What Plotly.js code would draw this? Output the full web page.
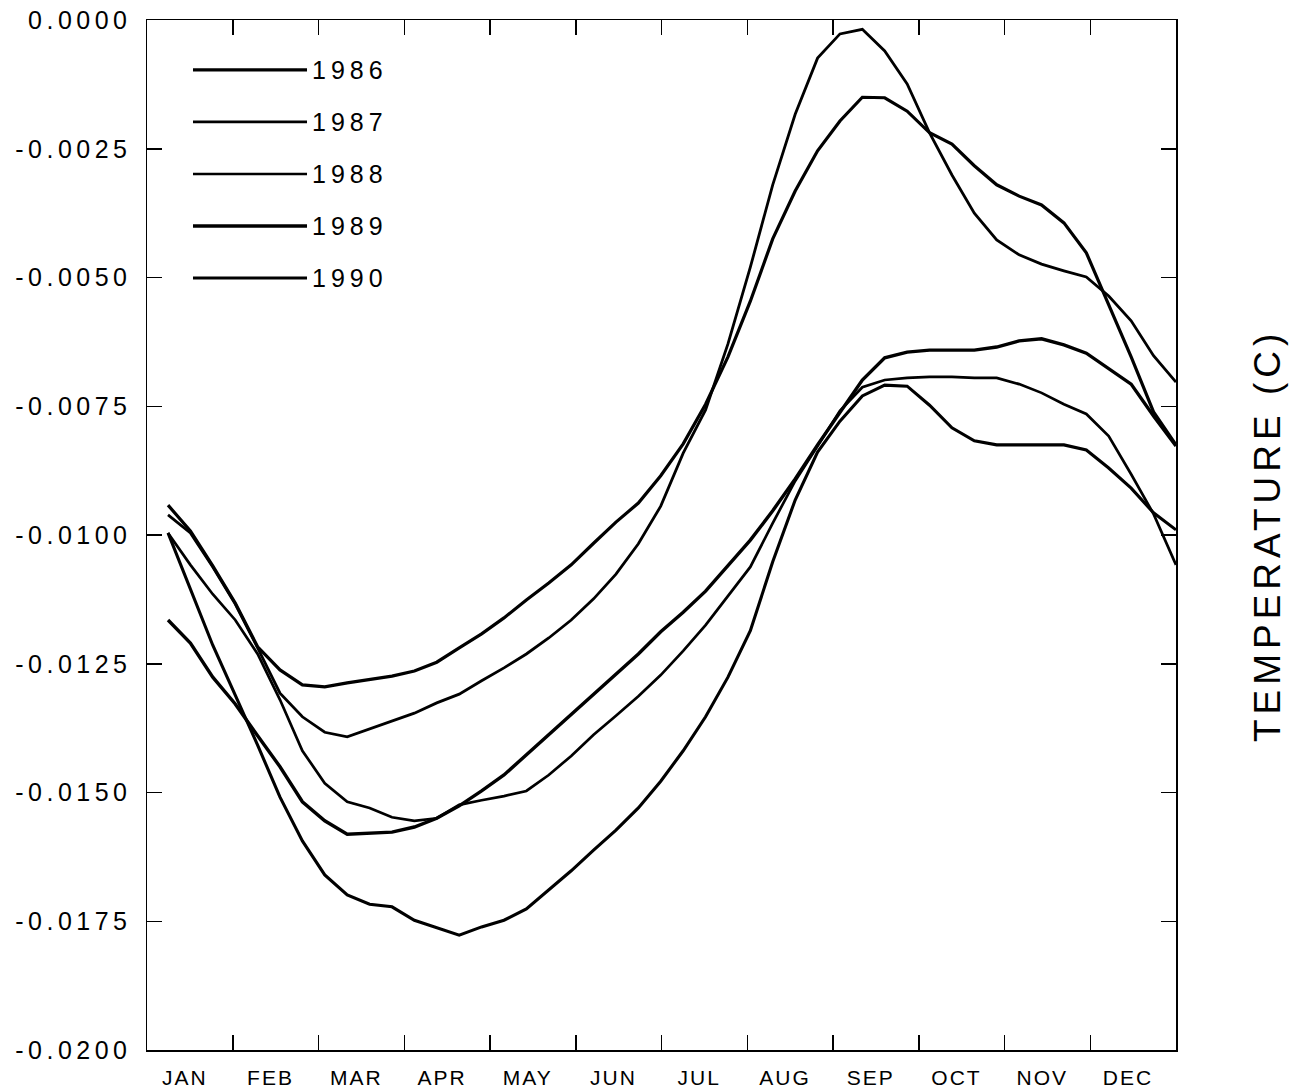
<!DOCTYPE html>
<html>
<head>
<meta charset="utf-8">
<script src="https://cdn.plot.ly/plotly-3.0.1.min.js"></script>
<style>
  body { margin: 0; background: #fff; }
  #chart { width: 1291px; height: 1092px; }
  .ytick text { letter-spacing: 4.5px; }
  .xtick text { letter-spacing: 2px; }
  .annotation-text { letter-spacing: 5px; }
</style>
</head>
<body>
<div id="chart"></div>
<script>
// ---- data ----
const months = ['JAN','FEB','MAR','APR','MAY','JUN','JUL','AUG','SEP','OCT','NOV','DEC'];
const years = ['1986','1987','1988','1989','1990'];
const yTickLabels = ['0.0000','-0.0025','-0.0050','-0.0075','-0.0100','-0.0125','-0.0150','-0.0175','-0.0200'];

// time of each sample, in months since 1 January
const timeMonths = [0.245,0.506,0.767,1.029,1.290,1.551,1.812,2.073,2.335,2.596,2.857,3.118,3.379,3.641,3.902,4.163,4.424,4.685,4.947,5.208,5.469,5.730,5.991,6.253,6.514,6.775,7.036,7.297,7.559,7.820,8.081,8.342,8.603,8.865,9.126,9.387,9.648,9.909,10.171,10.432,10.693,10.954,11.215,11.477,11.738,12.000];

const temp1986 = [-0.00942,-0.00992,-0.01060,-0.01132,-0.01217,-0.01262,-0.01291,-0.01295,-0.01287,-0.01280,-0.01274,-0.01264,-0.01247,-0.01219,-0.01192,-0.01161,-0.01126,-0.01093,-0.01058,-0.01016,-0.00975,-0.00938,-0.00885,-0.00823,-0.00746,-0.00654,-0.00546,-0.00425,-0.00332,-0.00254,-0.00196,-0.00150,-0.00151,-0.00177,-0.00219,-0.00241,-0.00283,-0.00320,-0.00342,-0.00359,-0.00394,-0.00452,-0.00553,-0.00654,-0.00761,-0.00825];
const temp1987 = [-0.00961,-0.00996,-0.01062,-0.01134,-0.01219,-0.01307,-0.01353,-0.01383,-0.01392,-0.01377,-0.01361,-0.01346,-0.01326,-0.01309,-0.01283,-0.01258,-0.01231,-0.01200,-0.01165,-0.01124,-0.01076,-0.01017,-0.00944,-0.00841,-0.00757,-0.00629,-0.00480,-0.00320,-0.00183,-0.00074,-0.00027,-0.00018,-0.00060,-0.00124,-0.00219,-0.00301,-0.00375,-0.00427,-0.00456,-0.00474,-0.00487,-0.00499,-0.00536,-0.00584,-0.00652,-0.00703];
const temp1988 = [-0.00996,-0.01058,-0.01115,-0.01165,-0.01231,-0.01320,-0.01419,-0.01482,-0.01518,-0.01530,-0.01548,-0.01555,-0.01550,-0.01524,-0.01515,-0.01507,-0.01497,-0.01466,-0.01429,-0.01388,-0.01351,-0.01313,-0.01272,-0.01225,-0.01175,-0.01118,-0.01062,-0.00977,-0.00895,-0.00827,-0.00759,-0.00713,-0.00699,-0.00695,-0.00693,-0.00693,-0.00695,-0.00695,-0.00707,-0.00724,-0.00746,-0.00765,-0.00808,-0.00882,-0.00959,-0.01058];
const temp1989 = [-0.01165,-0.01210,-0.01276,-0.01328,-0.01390,-0.01450,-0.01518,-0.01555,-0.01581,-0.01579,-0.01577,-0.01567,-0.01550,-0.01526,-0.01497,-0.01466,-0.01427,-0.01386,-0.01348,-0.01309,-0.01270,-0.01231,-0.01188,-0.01150,-0.01109,-0.01060,-0.01010,-0.00953,-0.00891,-0.00825,-0.00761,-0.00699,-0.00656,-0.00645,-0.00641,-0.00641,-0.00641,-0.00635,-0.00623,-0.00619,-0.00631,-0.00647,-0.00676,-0.00707,-0.00769,-0.00827];
const temp1990 = [-0.00996,-0.01107,-0.01214,-0.01311,-0.01408,-0.01509,-0.01594,-0.01660,-0.01699,-0.01717,-0.01722,-0.01748,-0.01763,-0.01777,-0.01761,-0.01748,-0.01726,-0.01689,-0.01652,-0.01612,-0.01573,-0.01530,-0.01478,-0.01419,-0.01353,-0.01276,-0.01186,-0.01052,-0.00932,-0.00839,-0.00779,-0.00730,-0.00709,-0.00711,-0.00748,-0.00792,-0.00817,-0.00825,-0.00825,-0.00825,-0.00825,-0.00835,-0.00870,-0.00909,-0.00957,-0.00990];

const seriesValues = [temp1986, temp1987, temp1988, temp1989, temp1990];

// ---- styling ----
const FONT = 'Liberation Sans, Arial, sans-serif';
const lineWidths = [3.2, 2.8, 2.7, 3.4, 3.1];

const traces = years.map((yr, i) => ({
  type: 'scatter',
  mode: 'lines',
  name: yr,
  x: timeMonths,
  y: seriesValues[i],
  line: { color: '#000', width: lineWidths[i] },
  hoverinfo: 'skip'
}));

// legend drawn inside the plot, top-left
const legX0 = 0.0447, legX1 = 0.1555, legTop = 0.9515, legStep = 0.0505;
const shapes = years.map((yr, i) => ({
  type: 'line', xref: 'paper', yref: 'paper',
  x0: legX0, x1: legX1, y0: legTop - i * legStep, y1: legTop - i * legStep,
  line: { color: '#000', width: lineWidths[i] }
}));
const annotations = years.map((yr, i) => ({
  xref: 'paper', yref: 'paper', x: legX1 + 0.003, y: legTop - i * legStep,
  xanchor: 'left', yanchor: 'middle', showarrow: false, text: yr,
  font: { family: FONT, size: 25, color: '#000' }
}));
annotations.push({
  xref: 'paper', yref: 'paper', x: 1.0885, y: 0.499,
  xanchor: 'center', yanchor: 'middle', showarrow: false,
  text: 'TEMPERATURE (C)', textangle: -90,
  font: { family: FONT, size: 37, color: '#000' }
});

const layout = {
  width: 1291, height: 1092,
  margin: { l: 147, r: 115, t: 20, b: 42 },
  paper_bgcolor: '#fff', plot_bgcolor: '#fff',
  showlegend: false,
  xaxis: {
    range: [0, 12],
    tickmode: 'array',
    tickvals: months.map((m, i) => i + 0.44),
    ticktext: months,
    ticks: '',
    showline: true, linecolor: '#000', linewidth: 1.5, mirror: 'ticks',
    showgrid: false, zeroline: false,
    tickfont: { family: FONT, size: 21, color: '#000' },
    ticklabelstandoff: 8,
    minor: {
      tickmode: 'array',
      tickvals: months.slice(1).map((m, i) => i + 1),
      ticks: 'inside', ticklen: 15, tickwidth: 1.5, tickcolor: '#000',
      showgrid: false
    }
  },
  yaxis: {
    range: [-0.02, 0],
    tickmode: 'array',
    tickvals: yTickLabels.map(s => parseFloat(s)),
    ticktext: yTickLabels,
    ticks: 'inside', ticklen: 15, tickwidth: 1.5, tickcolor: '#000',
    showline: true, linecolor: '#000', linewidth: 1.5, mirror: 'ticks',
    showgrid: false, zeroline: false,
    tickfont: { family: FONT, size: 25, color: '#000' },
    ticklabelstandoff: 9
  },
  shapes: shapes,
  annotations: annotations
};

Plotly.newPlot('chart', traces, layout, { staticPlot: true, displayModeBar: false });
</script>
</body>
</html>
